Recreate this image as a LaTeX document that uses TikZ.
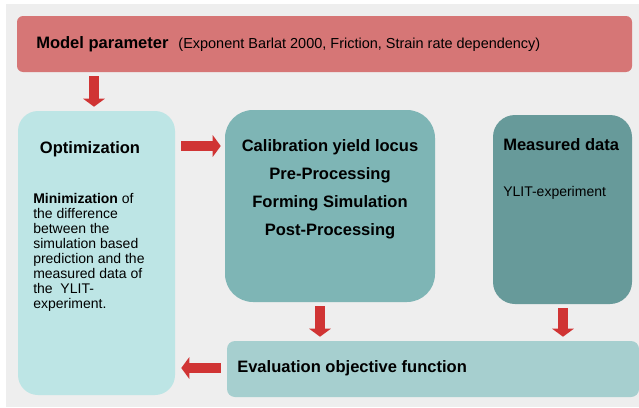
\documentclass[tikz,border=0pt]{standalone}
\usepackage{fontspec}
\setmainfont{Liberation Sans}
\usetikzlibrary{arrows.meta,fit}

\definecolor{bggrey}{HTML}{EEEEEE}
\definecolor{modelred}{HTML}{D67676}
\definecolor{optcyan}{HTML}{BDE5E5}
\definecolor{calibteal}{HTML}{7EB5B5}
\definecolor{measteal}{HTML}{679A9A}
\definecolor{evalteal}{HTML}{A6CFCF}
\definecolor{arrowred}{HTML}{D03434}

\tikzset{
  box/.style={fit={#1}, inner sep=0pt, draw=none},
  title/.style={font=\fontsize{12.4}{14}\selectfont\bfseries, inner sep=0pt},
  bodytext/.style={font=\fontsize{10.5}{11.25}\selectfont, inner sep=0pt},
  redarrow/.style={draw=arrowred, line width=7.5pt,
    -{Triangle[length=6pt,width=16pt]}, shorten <=3pt, shorten >=3pt},
}

\begin{document}
\begin{tikzpicture}[x=0.75pt,y=-0.75pt]
        \useasboundingbox (0,0) rectangle (639,407);
        \fill[bggrey] (6,4) rectangle (639,407);
        % boxes
        \node[box={(17,16) (632,72)}, fill=modelred, rounded corners=4.5pt] (model) {};
        \node[box={(18,111) (175,395)}, fill=optcyan, rounded corners=15pt] (opt) {};
        \node[box={(225,110) (435,302)}, fill=calibteal, rounded corners=21pt] (calib) {};
        \node[box={(493,115) (632,304)}, fill=measteal, rounded corners=16.5pt] (meas) {};
        \node[box={(227,341) (639,397)}, fill=evalteal, rounded corners=6pt] (eval) {};
        % texts
        \node[title, anchor=west] (modeltitle) at (36,44) {Model parameter};
        \node[bodytext, font=\fontsize{10.85}{12}\selectfont, anchor=base west] (modelnote)
            at ([xshift=7pt]modeltitle.base east)
            {(Exponent Barlat 2000, Friction, Strain rate dependency)};
        \node[title] (opttitle) at (90,149) {Optimization};
        \node[bodytext, anchor=north west, align=left] (optbody) at (33,193)
            {\textbf{Minimization} of\\the difference\\between the\\simulation based\\
             prediction and the\\measured data of\\the\ \ YLIT-\\experiment.};
        \node[title, align=center, font=\fontsize{12.4}{21}\selectfont\bfseries] (calibtxt) at (330,189)
            {Calibration yield locus\\Pre-Processing\\Forming Simulation\\Post-Processing};
        \node[title, anchor=west] (meastitle) at (503,145) {Measured data};
        \node[bodytext, anchor=west] (measbody) at (503,193) {YLIT-experiment};
        \node[title, anchor=west] (evaltxt) at (237,368) {Evaluation objective function};
        % arrows
        \coordinate (a1) at (94,0);
        \coordinate (a2) at (0,146);
        \coordinate (a3) at (320,0);
        \coordinate (a4) at (563,0);
        \coordinate (a5) at (0,368);
        \draw[redarrow] (model.south -| a1) -- (opt.north -| a1);
        \draw[redarrow, shorten <=4.5pt] (opt.east |- a2) -- (calib.west |- a2);
        \draw[redarrow] (calib.south -| a3) -- (eval.north -| a3);
        \draw[redarrow] (meas.south -| a4) -- (eval.north -| a4);
        \draw[redarrow, shorten <=4.5pt, shorten >=4.5pt] (eval.west |- a5) -- (opt.east |- a5);
    \end{tikzpicture}
\end{document}
